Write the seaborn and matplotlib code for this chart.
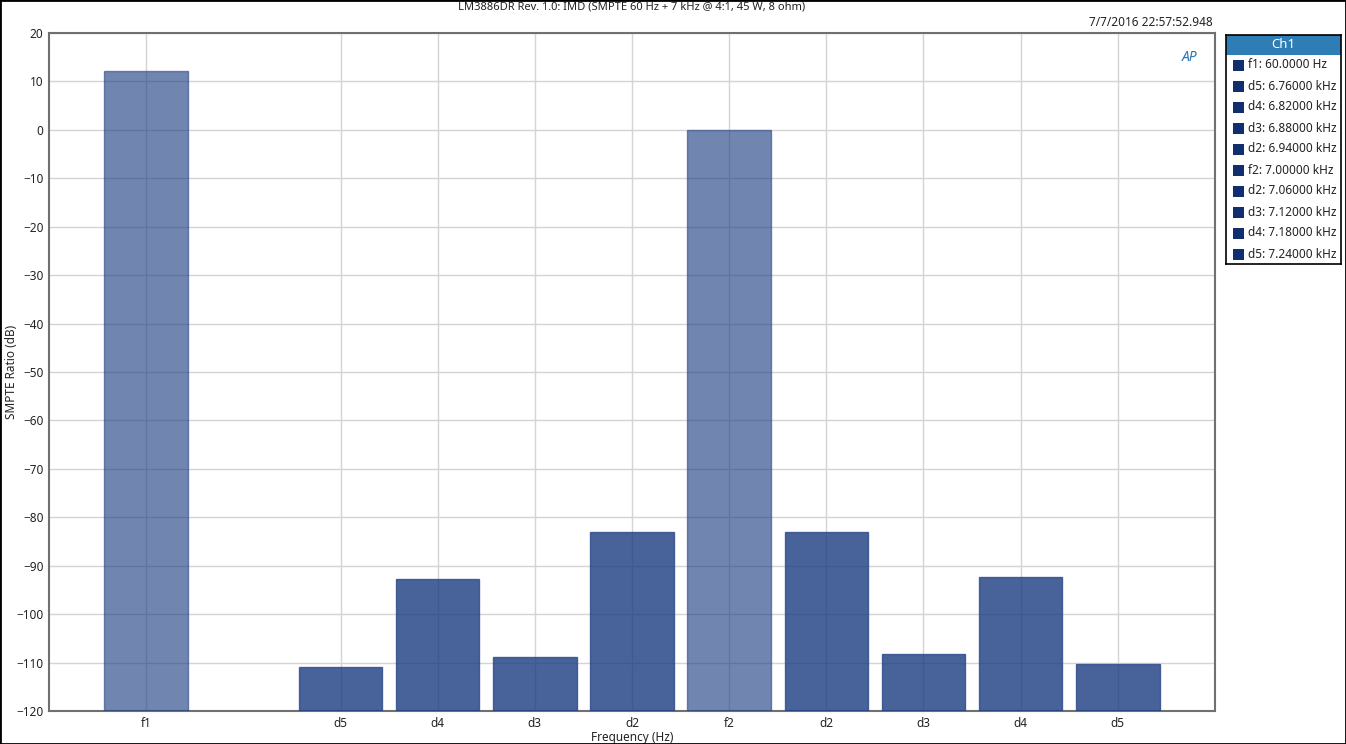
#!/usr/bin/env python3

import numpy as np
import pandas as pd
import seaborn as sns
import matplotlib.pyplot as plt
from matplotlib.patches import Rectangle

# bar slots: f1, (gap), lower sidebands, f2, upper sidebands
positions = [0, 2, 3, 4, 5, 6, 7, 8, 9, 10]
tick_labels = ['f1', 'd5', 'd4', 'd3', 'd2', 'f2', 'd2', 'd3', 'd4', 'd5']
kinds = ['f', 'd', 'd', 'd', 'd', 'f', 'd', 'd', 'd', 'd']
levels_db = [12.15, -110.9, -92.7, -108.9, -83.0, 0.0, -83.0, -108.2, -92.3, -110.3]
legend_labels = ['f1: 60.0000 Hz', 'd5: 6.76000 kHz', 'd4: 6.82000 kHz', 'd3: 6.88000 kHz',
                 'd2: 6.94000 kHz', 'f2: 7.00000 kHz', 'd2: 7.06000 kHz', 'd3: 7.12000 kHz',
                 'd4: 7.18000 kHz', 'd5: 7.24000 kHz']
y_floor = -120

df = pd.DataFrame({'pos': positions, 'level': levels_db, 'kind': kinds})
kind_at = dict(zip(positions, kinds))

sns.set_theme(style='white')
plt.rcParams['font.family'] = ['Noto Sans', 'DejaVu Sans']

W, H = 1346, 744
fig = plt.figure(figsize=(W / 100, H / 100), dpi=100)
ax = fig.add_axes([49 / W, 1 - 711 / H, (1215 - 49) / W, (711 - 33) / H])

navy = '#1a3b81'
sns.barplot(data=df, x='pos', y='level', hue='kind', native_scale=True, dodge=False,
            palette={'f': navy, 'd': navy}, saturation=1, width=0.86, legend=False,
            edgecolor='#2c4788', linewidth=1.0, ax=ax, zorder=3)

# bars rise from the bottom of the scale, not from 0 dB
for patch in ax.patches:
    top = patch.get_y() + patch.get_height() if patch.get_height() < 0 else patch.get_height()
    centre = int(round(patch.get_x() + patch.get_width() / 2))
    patch.set_y(y_floor)
    patch.set_height(top - y_floor)
    patch.set_alpha(0.62 if kind_at[centre] == 'f' else 0.8)

ax.set_xlim(-1, 11)
ax.set_ylim(-120, 20)
ax.set_yticks(np.arange(-120, 21, 10))
ax.set_xticks(positions)
ax.set_xticklabels(tick_labels)
ax.grid(True, color='#d4d4d4', linewidth=1.0, zorder=0)
ax.set_axisbelow(True)
ax.tick_params(axis='both', length=0, labelsize=8.5, labelcolor='#222222', pad=4)
ax.set_xlabel('Frequency (Hz)', fontsize=8.5, color='#222222', labelpad=1)
ax.set_ylabel('SMPTE Ratio (dB)', fontsize=8.5, color='#222222', labelpad=2)
ax.yaxis.set_label_coords(-31 / 1166, 0.5)
for s in ax.spines.values():
    s.set_color('#707070')
    s.set_linewidth(1.5)

fig.text(632 / W, 1 - 7 / H, 'LM3886DR Rev. 1.0: IMD (SMPTE 60 Hz + 7 kHz @ 4:1, 45 W, 8 ohm)',
         ha='center', va='center', fontsize=8, color='#222222')
fig.text(1213 / W, 1 - 23 / H, '7/7/2016 22:57:52.948', ha='right', va='center',
         fontsize=8.5, color='#222222')
ax.text(0.985, 0.975, 'AP', transform=ax.transAxes, ha='right', va='top', fontsize=10,
        fontstyle='italic', fontweight='bold', color='#2a74b8')

# legend panel
lx0, ly0, lx1, ly1 = 1226, 35, 1341, 264
lax = fig.add_axes([lx0 / W, 1 - ly1 / H, (lx1 - lx0) / W, (ly1 - ly0) / H])
lax.set_xlim(lx0, lx1)
lax.set_ylim(ly1, ly0)
lax.set_xticks([])
lax.set_yticks([])
for s in lax.spines.values():
    s.set_color('black')
    s.set_linewidth(1.2)
lax.add_patch(Rectangle((lx0, ly0), lx1 - lx0, 20, facecolor='#2e7db5', edgecolor='none'))
lax.text((lx0 + lx1) / 2, ly0 + 10, 'Ch1', ha='center', va='center', fontsize=9.5,
         fontweight='bold', color='white')
for i, lab in enumerate(legend_labels):
    yc = 65 + 21 * i
    lax.add_patch(Rectangle((1233, yc - 5.5), 11, 11, facecolor='#112e6e', edgecolor='none'))
    lax.text(1248, yc, lab, ha='left', va='center', fontsize=8.5, color='#222222')

fig.add_artist(Rectangle((0, 0), 1, 1, transform=fig.transFigure, fill=False,
                         edgecolor='black', linewidth=2))

fig.savefig('out.png', dpi=100)
